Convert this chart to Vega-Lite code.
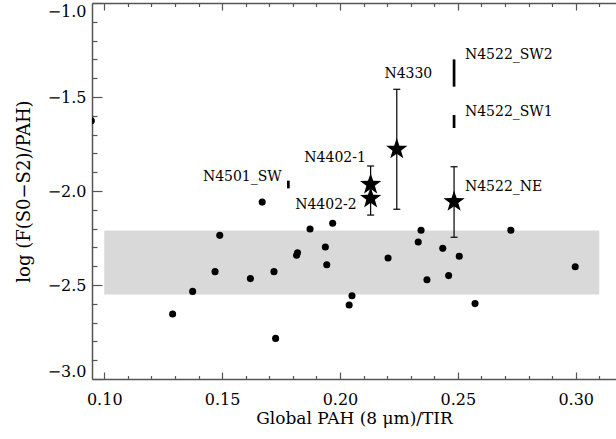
{
  "$schema": "https://vega.github.io/schema/vega-lite/v6.json",
  "width": 524,
  "height": 376,
  "autosize": {"type": "none"},
  "padding": {"left": 92, "top": 3, "right": 0, "bottom": 60},
  "background": "white",
  "view": {"stroke": null},
  "resolve": {"axis": {"x": "independent", "y": "independent"}},
  "config": {
    "font": "DejaVu Serif",
    "axis": {
      "grid": false,
      "domainColor": "#555555",
      "domainWidth": 1.5,
      "tickColor": "#555555",
      "tickWidth": 1.2,
      "labelColor": "black",
      "titleColor": "black",
      "labelFont": "DejaVu Serif",
      "titleFont": "DejaVu Serif",
      "labelFontSize": 16,
      "titleFontSize": 17,
      "titleFontWeight": "normal",
      "labelOverlap": false,
      "labelFlush": false
    }
  },
  "datasets": {
    "band": [{"x1": 0.10, "x2": 0.31, "y1": -2.55, "y2": -2.21}],
    "points": [
      {"x": 0.0945, "y": -1.626},
      {"x": 0.129, "y": -2.654},
      {"x": 0.1375, "y": -2.534},
      {"x": 0.147, "y": -2.429},
      {"x": 0.149, "y": -2.236},
      {"x": 0.162, "y": -2.466},
      {"x": 0.167, "y": -2.059},
      {"x": 0.172, "y": -2.429},
      {"x": 0.1727, "y": -2.784},
      {"x": 0.1816, "y": -2.342},
      {"x": 0.182, "y": -2.328},
      {"x": 0.1873, "y": -2.202},
      {"x": 0.1938, "y": -2.298},
      {"x": 0.1944, "y": -2.392},
      {"x": 0.1969, "y": -2.172},
      {"x": 0.2051, "y": -2.557},
      {"x": 0.2039, "y": -2.606},
      {"x": 0.2204, "y": -2.356},
      {"x": 0.2344, "y": -2.209},
      {"x": 0.2332, "y": -2.271},
      {"x": 0.2369, "y": -2.472},
      {"x": 0.2436, "y": -2.305},
      {"x": 0.2461, "y": -2.45},
      {"x": 0.2506, "y": -2.347},
      {"x": 0.2573, "y": -2.599},
      {"x": 0.2725, "y": -2.209},
      {"x": 0.2998, "y": -2.403}
    ],
    "stars": [
      {"name": "N4330", "x": 0.2241, "y": -1.778, "low": -2.097, "high": -1.459},
      {"name": "N4402-1", "x": 0.213, "y": -1.965, "low": -2.06, "high": -1.867},
      {"name": "N4402-2", "x": 0.213, "y": -2.039, "low": -2.128, "high": -1.97},
      {"name": "N4522_NE", "x": 0.2484, "y": -2.057, "low": -2.246, "high": -1.871}
    ],
    "segments": [
      {"name": "N4522_SW2", "x": 0.2484, "low": -1.445, "high": -1.3},
      {"name": "N4522_SW1", "x": 0.2484, "low": -1.665, "high": -1.596},
      {"name": "N4501_SW", "x": 0.1781, "low": -1.986, "high": -1.945}
    ],
    "lab_left": [
      {"name": "N4522_SW2", "lx": 0.253, "ly": -1.277},
      {"name": "N4522_SW1", "lx": 0.253, "ly": -1.578},
      {"name": "N4522_NE", "lx": 0.253, "ly": -1.977}
    ],
    "lab_right": [
      {"name": "N4402-1", "lx": 0.211, "ly": -1.826},
      {"name": "N4402-2", "lx": 0.2071, "ly": -2.074},
      {"name": "N4501_SW", "lx": 0.1753, "ly": -1.924}
    ],
    "lab_center": [
      {"name": "N4330", "lx": 0.229, "ly": -1.378}
    ]
  },
  "layer": [
    {
      "data": {"name": "band"},
      "mark": {"type": "rect", "color": "#d9d9d9"},
      "encoding": {
        "x": {
          "field": "x1", "type": "quantitative",
          "scale": {"domain": [0.0948, 0.3171], "nice": false, "zero": false},
          "axis": {
            "orient": "bottom",
            "title": "Global PAH (8 μm)/TIR",
            "values": [0.10, 0.15, 0.20, 0.25, 0.30],
            "format": ".2f",
            "tickSize": -7,
            "labelPadding": 19,
            "titlePadding": 3
          }
        },
        "x2": {"field": "x2"},
        "y": {
          "field": "y1", "type": "quantitative",
          "scale": {"domain": [-3, -1], "nice": false, "zero": false},
          "axis": {
            "orient": "left",
            "title": "log (F(S0−S2)/PAH)",
            "titleFontSize": 18,
            "values": [-3.0, -2.5, -2.0, -1.5, -1.0],
            "format": ".1f",
            "tickSize": -10,
            "labelPadding": 16,
            "labelFlush": true,
            "titlePadding": 14
          }
        },
        "y2": {"field": "y2"}
      }
    },
    {
      "data": {"name": "points"},
      "mark": {"type": "point", "shape": "circle", "filled": true, "color": "black", "opacity": 1, "size": 50, "clip": true},
      "encoding": {
        "x": {
          "field": "x", "type": "quantitative",
          "axis": {
            "orient": "bottom", "title": null, "labels": false, "domain": false,
            "values": [0.11, 0.12, 0.13, 0.14, 0.16, 0.17, 0.18, 0.19, 0.21, 0.22, 0.23, 0.24, 0.26, 0.27, 0.28, 0.29, 0.31],
            "tickSize": -3.5
          }
        },
        "y": {
          "field": "y", "type": "quantitative",
          "axis": {
            "orient": "left", "title": null, "labels": false, "domain": false,
            "values": [-2.9, -2.8, -2.7, -2.6, -2.4, -2.3, -2.2, -2.1, -1.9, -1.8, -1.7, -1.6, -1.4, -1.3, -1.2, -1.1],
            "tickSize": -5
          }
        }
      }
    },
    {
      "data": {"name": "stars"},
      "mark": {"type": "rule", "color": "black", "strokeWidth": 1.2},
      "encoding": {
        "x": {
          "field": "x", "type": "quantitative",
          "axis": {
            "orient": "top", "title": null, "labels": false,
            "values": [0.10, 0.15, 0.20, 0.25, 0.30],
            "tickSize": -7
          }
        },
        "y": {"field": "low", "type": "quantitative", "axis": null},
        "y2": {"field": "high"}
      }
    },
    {
      "data": {"name": "stars"},
      "mark": {"type": "tick", "orient": "horizontal", "color": "black", "size": 7, "thickness": 1.2, "opacity": 1},
      "encoding": {
        "x": {
          "field": "x", "type": "quantitative",
          "axis": {
            "orient": "top", "title": null, "labels": false, "domain": false,
            "values": [0.11, 0.12, 0.13, 0.14, 0.16, 0.17, 0.18, 0.19, 0.21, 0.22, 0.23, 0.24, 0.26, 0.27, 0.28, 0.29, 0.31],
            "tickSize": -3.5
          }
        },
        "y": {"field": "low", "type": "quantitative", "axis": null}
      }
    },
    {
      "data": {"name": "stars"},
      "mark": {"type": "tick", "orient": "horizontal", "color": "black", "size": 7, "thickness": 1.2, "opacity": 1},
      "encoding": {
        "x": {"field": "x", "type": "quantitative", "axis": null},
        "y": {"field": "high", "type": "quantitative", "axis": null}
      }
    },
    {
      "data": {"name": "segments"},
      "mark": {"type": "rule", "color": "black", "strokeWidth": 2.7},
      "encoding": {
        "x": {"field": "x", "type": "quantitative", "axis": null},
        "y": {"field": "low", "type": "quantitative", "axis": null},
        "y2": {"field": "high"}
      }
    },
    {
      "data": {"name": "stars"},
      "mark": {"type": "point", "shape": "M0,-1L0.235,-0.324L0.951,-0.309L0.38,0.124L0.588,0.809L0,0.4L-0.588,0.809L-0.38,0.124L-0.951,-0.309L-0.235,-0.324Z", "filled": true, "color": "black", "opacity": 1, "size": 500},
      "encoding": {
        "x": {"field": "x", "type": "quantitative", "axis": null},
        "y": {"field": "y", "type": "quantitative", "axis": null}
      }
    },
    {
      "data": {"name": "lab_left"},
      "mark": {"type": "text", "align": "left", "baseline": "middle", "fontSize": 14, "font": "DejaVu Serif", "color": "black"},
      "encoding": {
        "x": {"field": "lx", "type": "quantitative", "axis": null},
        "y": {"field": "ly", "type": "quantitative", "axis": null},
        "text": {"field": "name"}
      }
    },
    {
      "data": {"name": "lab_right"},
      "mark": {"type": "text", "align": "right", "baseline": "middle", "fontSize": 14, "font": "DejaVu Serif", "color": "black"},
      "encoding": {
        "x": {"field": "lx", "type": "quantitative", "axis": null},
        "y": {"field": "ly", "type": "quantitative", "axis": null},
        "text": {"field": "name"}
      }
    },
    {
      "data": {"name": "lab_center"},
      "mark": {"type": "text", "align": "center", "baseline": "middle", "fontSize": 14, "font": "DejaVu Serif", "color": "black"},
      "encoding": {
        "x": {"field": "lx", "type": "quantitative", "axis": null},
        "y": {"field": "ly", "type": "quantitative", "axis": null},
        "text": {"field": "name"}
      }
    }
  ]
}
